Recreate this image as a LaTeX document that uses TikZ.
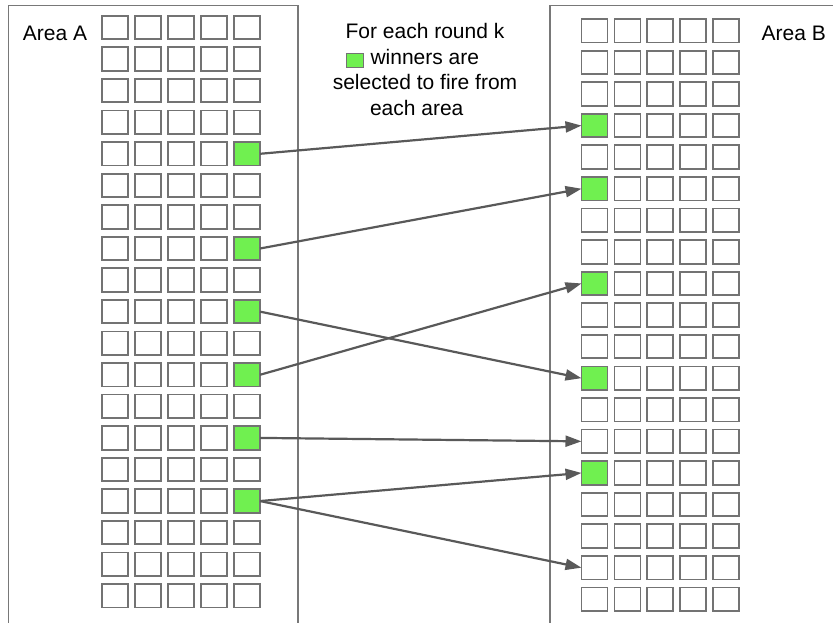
\documentclass[tikz,border=0pt]{standalone}
\usepackage{fontspec}
\setmainfont{Liberation Sans}
\usetikzlibrary{arrows.meta}
\definecolor{boxgray}{RGB}{115,115,115}
\definecolor{framegray}{RGB}{120,120,120}
\definecolor{arrowgray}{RGB}{89,89,89}
\definecolor{wingreen}{RGB}{112,240,80}
\begin{document}
\begin{tikzpicture}[x=1pt,y=-1pt,
  cell/.style={draw=boxgray, line width=1.8pt, minimum width=26pt, minimum height=23.5pt, inner sep=0pt, outer sep=0pt},
  frame/.style={draw=framegray, line width=1.5pt},
  link/.style={draw=arrowgray, line width=2.2pt, -{Triangle[length=16pt,width=11pt]}},
  lbl/.style={font=\fontsize{21}{25.7}\selectfont, inner sep=0pt, text=black},
  ca-5-5/.style={fill=wingreen}, ca-8-5/.style={fill=wingreen}, ca-10-5/.style={fill=wingreen},
  ca-12-5/.style={fill=wingreen}, ca-14-5/.style={fill=wingreen}, ca-16-5/.style={fill=wingreen},
  cb-4-1/.style={fill=wingreen}, cb-6-1/.style={fill=wingreen}, cb-9-1/.style={fill=wingreen},
  cb-12-1/.style={fill=wingreen}, cb-15-1/.style={fill=wingreen}]
\useasboundingbox (0,0) rectangle (833,622);
% frames
\draw[frame] (8.5,625) -- (8.5,5.7) -- (298,5.7) -- (298,625);
\draw[frame] (550,625) -- (550,5.7) -- (836,5.7);
% cells
\foreach \r in {1,...,19}{
  \foreach \c in {1,...,5}{
    \node[cell, ca-\r-\c/.try] (a-\r-\c) at ({114.8+(\c-1)*33.07},{27.5+(\r-1)*31.57}) {};
    \node[cell, cb-\r-\c/.try] (b-\r-\c) at ({594.5+(\c-1)*32.9},{30.8+(\r-1)*31.58}) {};
  }
}
% labels
\node[lbl, anchor=base] (areaA) at (55,40) {Area A};
\node[lbl, anchor=base] (areaB) at (793.8,40) {Area B};
\node[lbl, anchor=north, align=center] (legend) at (425,23)
  {For each round k\\
   {\setlength{\fboxsep}{0pt}\setlength{\fboxrule}{1pt}\raisebox{-3pt}{\fcolorbox{boxgray}{wingreen}{\rule{0pt}{13pt}\hspace{15.6pt}}}}\hspace{7pt}winners are\makebox[25pt]{}\\
   selected to fire from\\
   each area\makebox[16.6pt]{}};
% arrows
\draw[link] (a-5-5.east) -- (b-4-1.west);
\draw[link] (a-8-5.east) -- (b-6-1.west);
\draw[link] (a-10-5.east) -- (b-12-1.west);
\draw[link] (a-12-5.east) -- (b-9-1.west);
\draw[link] (a-14-5.east) -- (b-14-1.west);
\draw[link] (a-16-5.east) -- (b-15-1.west);
\draw[link] (a-16-5.east) -- (b-18-1.west);
\end{tikzpicture}
\end{document}
